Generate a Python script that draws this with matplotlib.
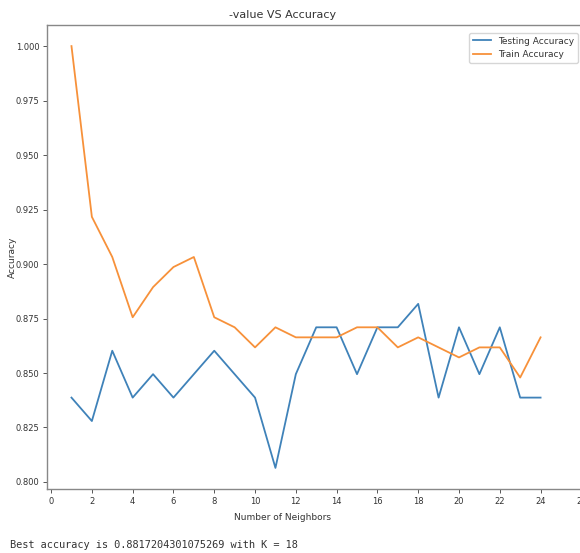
import matplotlib
matplotlib.use("Agg")
import matplotlib.pyplot as plt

neighbors = list(range(1, 25))
test_acc = [78/93, 77/93, 80/93, 78/93, 79/93, 78/93, 79/93, 80/93, 79/93, 78/93,
            75/93, 79/93, 81/93, 81/93, 79/93, 81/93, 81/93, 82/93, 78/93, 81/93,
            79/93, 81/93, 78/93, 78/93]
train_acc = [217/217, 200/217, 196/217, 190/217, 193/217, 195/217, 196/217, 190/217,
             189/217, 187/217, 189/217, 188/217, 188/217, 188/217, 189/217, 189/217,
             187/217, 188/217, 187/217, 186/217, 187/217, 187/217, 184/217, 188/217]
title = "-value VS Accuracy"
xlabel = "Number of Neighbors"
ylabel = "Accuracy"
best_text = "Best accuracy is 0.8817204301075269 with K = 18"

W, H = 580, 553
fig = plt.figure(figsize=(W/100, H/100), dpi=100)
ax = fig.add_axes([47/W, 1-489/H, (583-47)/W, (489-25)/H])
ax.plot(neighbors, test_acc, color="#3f82b9", lw=1.3, label="Testing Accuracy")
ax.plot(neighbors, train_acc, color="#f7913a", lw=1.3, label="Train Accuracy")
ax.set_xlim(-0.2, 26.08)
ax.set_xticks(range(0, 28, 2))
ax.set_yticks([0.800, 0.825, 0.850, 0.875, 0.900, 0.925, 0.950, 0.975, 1.000])
ax.set_yticklabels([f"{v:.3f}" for v in ax.get_yticks()])
ax.tick_params(labelsize=6, length=3, width=0.7, pad=2.5, colors="#555555", labelcolor="#333333")
for s in ax.spines.values():
    s.set_color("#888888")
    s.set_linewidth(1.0)
ax.set_ylabel(ylabel, fontsize=6.5, color="#333333")
ax.yaxis.set_label_coords(-0.057, 0.5)
fig.text(283/W, 1-15/H, title, ha="center", va="center", fontsize=8, color="#333333")
fig.text(283/W, 1-517/H, xlabel, ha="center", va="center", fontsize=6.5, color="#333333")
fig.text(10/W, 1-545/H, best_text, ha="left", va="center", fontsize=7.4,
         family="DejaVu Sans Mono", color="#333333")
leg = ax.legend(loc="upper right", bbox_to_anchor=(578/W, 1-33/H), bbox_transform=fig.transFigure,
                fontsize=6.5, borderaxespad=0, handlelength=2)
for t in leg.get_texts():
    t.set_color("#333333")
fig.savefig("out.png", dpi=100)
